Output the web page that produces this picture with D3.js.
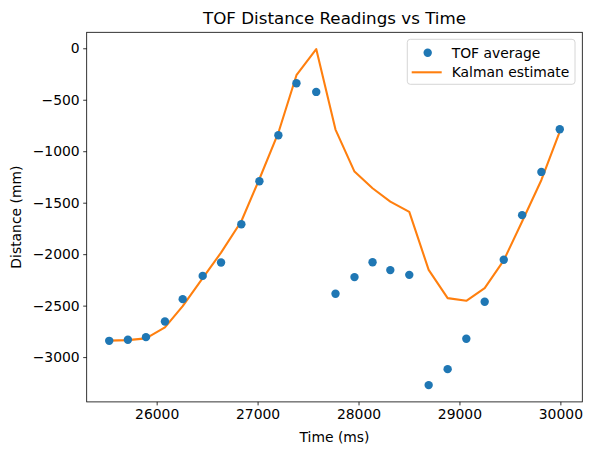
<!DOCTYPE html>
<html><head><meta charset="utf-8">
<script src="https://cdn.jsdelivr.net/npm/d3@7"></script>
<style>body{margin:0;background:#fff;} svg{display:block;font-family:"DejaVu Sans",sans-serif;}</style>
</head><body>
<script>
const times = [25530, 25715, 25894, 26082, 26258, 26456, 26638, 26839, 27018, 27206, 27385, 27581, 27772, 27960, 28139, 28315, 28503, 28695, 28883, 29068, 29250, 29439, 29621, 29812, 29994];
const tofAverage = [-2842, -2832, -2806, -2654, -2437, -2211, -2081, -1709, -1292, -845, -340, -424, -2385, -2223, -2078, -2155, -2201, -3272, -3117, -2822, -2463, -2055, -1621, -1201, -787];
const kalmanEstimate = [-2840, -2835, -2818, -2712, -2505, -2232, -1985, -1680, -1270, -820, -262, -8, -790, -1198, -1360, -1490, -1590, -2152, -2427, -2453, -2330, -2060, -1683, -1279, -810];
const xTicks = [26000, 27000, 28000, 29000, 30000];
const yTicks = [0, -500, -1000, -1500, -2000, -2500, -3000];
const titleText = "TOF Distance Readings vs Time";
const xLabel = "Time (ms)";
const yLabel = "Distance (mm)";
const seriesNames = ["TOF average", "Kalman estimate"];

const W = 592, H = 455;
const L = 86.7, T = 32.3, PW = 495.6, PH = 369.6;
const svg = d3.select("body").append("svg").attr("width", W).attr("height", H);

function padded(arr) {
  const lo = d3.min(arr), hi = d3.max(arr), m = (hi - lo) * 0.05;
  return [lo - m, hi + m];
}
const x = d3.scaleLinear().domain(padded(times)).range([L, L + PW]);
const y = d3.scaleLinear().domain(padded(tofAverage.concat(kalmanEstimate))).range([T + PH, T]);

const fmt = d3.format("d");
const minus = v => fmt(v).replace("-", "\u2212");

// axes
const xa = svg.append("g").attr("transform", `translate(0,${T + PH})`)
  .call(d3.axisBottom(x).tickValues(xTicks).tickSize(3.5).tickPadding(3.5).tickFormat(minus));
const ya = svg.append("g").attr("transform", `translate(${L},0)`)
  .call(d3.axisLeft(y).tickValues(yTicks).tickSize(3.5).tickPadding(3.5).tickFormat(minus));
[xa, ya].forEach(a => {
  a.select(".domain").remove();
  a.selectAll("line").attr("stroke", "#000").attr("stroke-width", 0.8);
  a.selectAll("text").attr("font-size", "13.9px").attr("fill", "#000").attr("font-family", "DejaVu Sans");
});

// frame
svg.append("rect").attr("x", L).attr("y", T).attr("width", PW).attr("height", PH)
  .attr("fill", "none").attr("stroke", "#000").attr("stroke-width", 0.8);

// kalman line
const line = d3.line().x((d, i) => x(times[i])).y(d => y(d));
svg.append("path").datum(kalmanEstimate).attr("d", line)
  .attr("fill", "none").attr("stroke", "#ff7f0e").attr("stroke-width", 2.08)
  .attr("stroke-linejoin", "round").attr("stroke-linecap", "square");

// scatter
svg.append("g").selectAll("circle").data(tofAverage).join("circle")
  .attr("cx", (d, i) => x(times[i])).attr("cy", d => y(d)).attr("r", 4.2)
  .attr("fill", "#1f77b4");

// title & labels
svg.append("text").attr("x", L + PW / 2).attr("y", 24).attr("text-anchor", "middle")
  .attr("font-size", "16.7px").text(titleText);
svg.append("text").attr("x", L + PW / 2).attr("y", 441.5).attr("text-anchor", "middle")
  .attr("font-size", "13.9px").text(xLabel);
svg.append("text").attr("transform", `translate(21,${T + PH / 2}) rotate(-90)`)
  .attr("text-anchor", "middle").attr("font-size", "13.9px").text(yLabel);

// legend
const lg = svg.append("g");
lg.append("rect").attr("x", 407.3).attr("y", 39.3).attr("width", 167.7).attr("height", 45)
  .attr("rx", 3).attr("fill", "#fff").attr("fill-opacity", 0.8).attr("stroke", "#ccc").attr("stroke-width", 0.8);
lg.append("circle").attr("cx", 427.7).attr("cy", 52.7).attr("r", 4.2).attr("fill", "#1f77b4");
lg.append("line").attr("x1", 411.7).attr("x2", 441.7).attr("y1", 72.3).attr("y2", 72.3)
  .attr("stroke", "#ff7f0e").attr("stroke-width", 2.08);
lg.selectAll("text.lt").data(seriesNames).join("text").attr("class", "lt")
  .attr("x", 451.7).attr("y", (d, i) => 52.7 + i * 19.6 + 5).attr("font-size", "13.9px").text(d => d);
</script>
</body></html>
